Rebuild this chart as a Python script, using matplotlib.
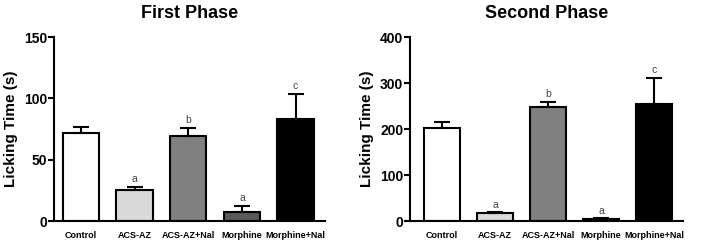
import matplotlib
matplotlib.use("Agg")
import matplotlib.pyplot as plt

categories = ["Control", "ACS-AZ", "ACS-AZ+Nal", "Morphine", "Morphine+Nal"]
first_mean = [72, 25.5, 69.5, 7.5, 83]
first_err = [4.5, 2.5, 6.5, 5, 21]
second_mean = [203, 17, 247, 4, 255]
second_err = [12, 2, 12, 2, 57]
letters = ["", "a", "b", "a", "c"]
colors = ["#ffffff", "#d9d9d9", "#808080", "#5a5a5a", "#000000"]

plt.rcParams['font.family'] = ['Liberation Sans', 'DejaVu Sans']

fig = plt.figure(figsize=(7.06, 2.44), dpi=100)
ax1 = fig.add_axes([0.0765, 0.094, 0.384, 0.754])
ax2 = fig.add_axes([0.581, 0.094, 0.387, 0.754])

def draw(ax, means, errs, ymax, yticks, title, xlim, letter_off):
    x = list(range(len(categories)))
    ax.bar(x, means, width=0.68, color=colors, edgecolor="black", linewidth=1.5, zorder=2)
    ax.errorbar(x, means, yerr=[[0]*len(errs), errs], fmt="none", ecolor="black",
                elinewidth=1.5, capsize=6, capthick=1.5, zorder=3)
    for xi, m, e, l in zip(x, means, errs, letters):
        if l:
            ax.text(xi, m + e + letter_off, l, ha="center", va="bottom", fontsize=7.5, color="#444444")
    ax.set_ylim(0, ymax)
    ax.set_xlim(*xlim)
    ax.set_yticks(yticks)
    ax.set_yticklabels([str(t) for t in yticks], fontsize=10, fontweight="bold")
    ax.set_xticks(x)
    ax.set_xticklabels(categories, fontsize=6.5, fontweight="bold")
    ax.tick_params(axis="x", length=0, pad=7)
    ax.tick_params(axis="y", length=4, width=1.5, pad=1)
    for s in ["top", "right"]:
        ax.spines[s].set_visible(False)
    for s in ["left", "bottom"]:
        ax.spines[s].set_linewidth(1.5)
    ax.set_ylabel("Licking Time (s)", fontsize=11, fontweight="bold", labelpad=4)
    ax.set_title(title, fontsize=13, fontweight="bold", pad=14)

draw(ax1, first_mean, first_err, 150, [0, 50, 100, 150], "First Phase", (-0.5, 4.55), 2)
draw(ax2, second_mean, second_err, 400, [0, 100, 200, 300, 400], "Second Phase", (-0.6, 4.55), 6)

fig.savefig("out.png", dpi=100)
